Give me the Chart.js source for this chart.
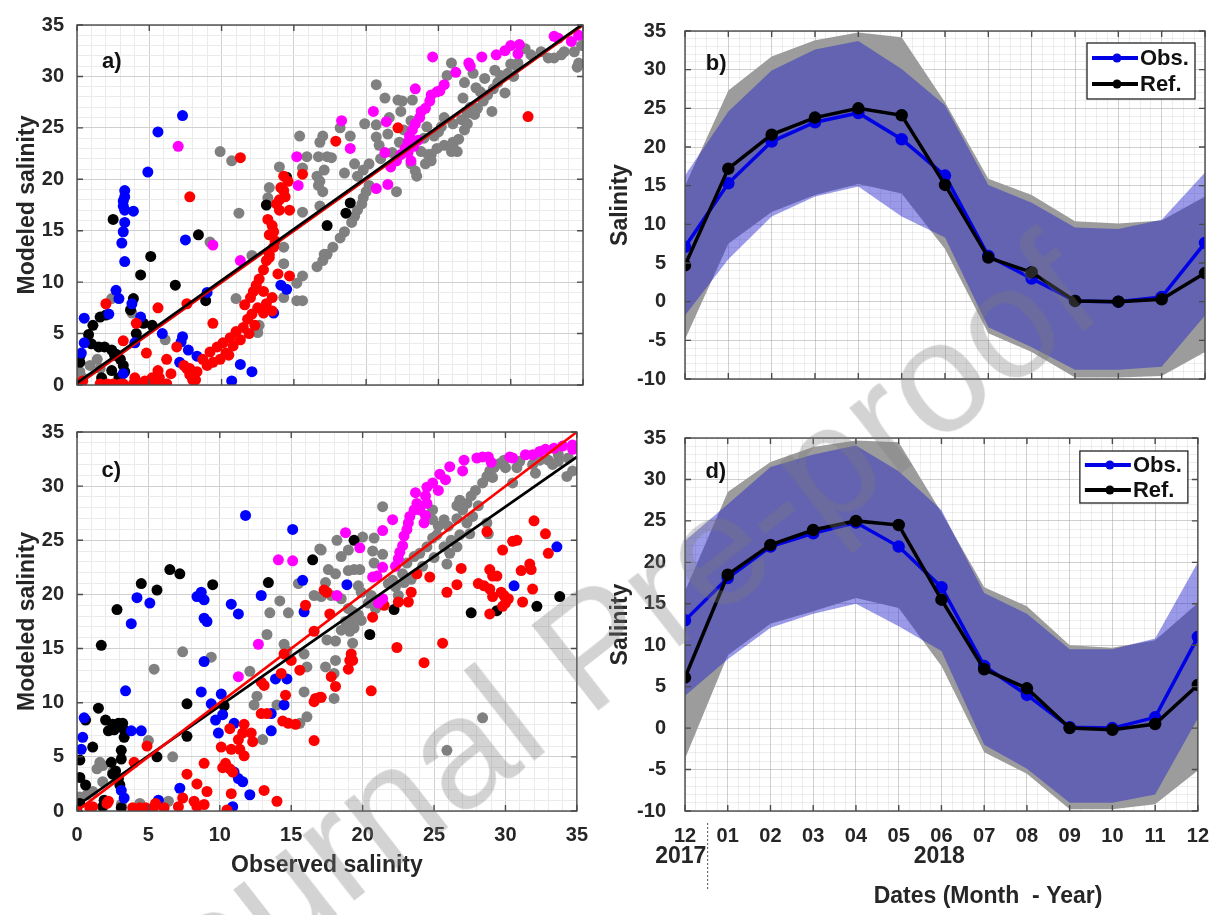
<!DOCTYPE html>
<html lang="en">
<head>
<meta charset="UTF-8">
<title>Observed vs modeled salinity</title>
<script src="https://cdn.jsdelivr.net/npm/chart.js@4"></script>
<style>
  body { margin: 0; background: #fff; font-family: "Liberation Sans", Arial, sans-serif; }
  #wrap { position: relative; width: 1222px; height: 915px; overflow: hidden; background: #fff; }
  .panel { position: absolute; }
  #pa { left: 0; top: 0; }
  #pb { left: 600px; top: 0; }
  #pc { left: 0; top: 407px; }
  #pd { left: 600px; top: 407px; }
  #watermark {
    position: absolute; left: 592px; top: 645px; z-index: 10; pointer-events: none;
    transform: translate(-50%, -50%) rotate(-38deg);
    white-space: nowrap; font-size: 158px; line-height: 1;
    font-family: "Liberation Sans", Arial, sans-serif;
    color: rgba(120, 120, 120, 0.33);
  }
</style>
</head>
<body>
<div id="wrap">
  <div class="panel" id="pa"><canvas id="chartA" width="600" height="410"></canvas></div>
  <div class="panel" id="pb"><canvas id="chartB" width="622" height="410"></canvas></div>
  <div class="panel" id="pc"><canvas id="chartC" width="600" height="472"></canvas></div>
  <div class="panel" id="pd"><canvas id="chartD" width="622" height="508"></canvas></div>
  <div id="watermark">Journal Pre-proof</div>
</div>

<script>
// ---- data ----
const monthLabels = ['12', '01', '02', '03', '04', '05', '06', '07', '08', '09', '10', '11', '12'];

// panel b
const obsB   = [7.1, 15.3, 20.7, 23.2, 24.4, 21.0, 16.3, 5.9, 3.0, 0.1, 0.0, 0.6, 7.6];
const refB   = [4.7, 17.2, 21.6, 23.8, 25.0, 24.1, 15.1, 5.7, 3.8, 0.1, 0.0, 0.3, 3.7];
const obsUpB = [16.3, 24.6, 29.9, 32.6, 33.7, 30.1, 25.4, 15.1, 12.8, 9.6, 9.4, 10.6, 16.7];
const obsLoB = [-1.8, 5.5, 11.0, 13.6, 14.9, 11.0, 8.3, -3.3, -5.9, -8.8, -8.8, -8.4, -1.8];
const refUpB = [15.0, 27.3, 31.7, 33.8, 34.8, 34.2, 25.8, 15.9, 13.8, 10.4, 10.1, 10.5, 13.6];
const refLoB = [-4.9, 7.5, 11.6, 13.8, 15.2, 14.0, 6.8, -4.1, -6.5, -9.8, -9.8, -9.6, -6.5];

// panel d
const obsD   = [13.0, 18.1, 21.9, 23.5, 24.8, 21.9, 17.0, 7.5, 4.0, 0.1, 0.0, 1.3, 11.0];
const refD   = [6.1, 18.5, 22.1, 23.9, 25.0, 24.5, 15.5, 7.1, 4.8, 0.0, -0.2, 0.5, 5.2];
const obsUpD = [22.6, 27.0, 31.5, 33.0, 34.1, 31.0, 26.3, 16.3, 13.8, 9.5, 9.5, 10.8, 20.0];
const obsLoD = [3.9, 8.3, 12.1, 13.8, 15.0, 12.3, 9.3, -2.0, -4.9, -9.0, -9.0, -8.0, 1.2];
const refUpD = [16.5, 28.5, 32.1, 33.9, 34.7, 34.5, 26.0, 17.0, 14.7, 10.0, 9.7, 10.6, 15.1];
const refLoD = [-3.7, 8.8, 12.6, 14.1, 15.7, 14.5, 7.5, -2.9, -5.5, -9.8, -9.8, -9.2, -5.1];

// panel a scatter  [observed, modeled]
const aGray = [[15.4,24.2],[17.0,24.2],[16.8,23.6],[9.9,22.7],[10.7,21.8],[15.9,22.2],[16.7,22.2],[17.3,22.2],[14.0,21.2],[15.6,21.1],[16.6,20.3],[16.8,19.8],[16.7,19.4],[17.0,18.8],[13.3,19.2],[13.2,18.2],[11.2,16.7],[15.6,16.8],[16.8,17.4],[9.2,13.9],[12.1,12.6],[14.3,13.4],[14.3,11.8],[16.6,11.5],[17.0,12.1],[17.3,12.7],[15.2,9.9],[15.6,10.6],[14.3,8.5],[15.2,8.2],[15.6,8.2],[11.0,8.4],[2.4,8.4],[3.8,7.0],[6.1,4.4],[1.4,2.5],[0.9,1.9],[0.2,1.3],[0.4,0.7],[1.6,1.6],[0.0,0.7],[6.2,0.1],[5.7,0.2],[12.6,5.8],[12.5,5.1],
  [17.1,12.7],[17.7,13.4],[18.2,14.3],[18.5,14.9],[19.0,15.8],[19.2,16.4],[19.4,17.0],[19.7,17.6],[19.8,18.2],[20.0,18.8],[20.2,19.4],[22.1,18.8],[23.4,20.8],[24.1,21.5],[24.3,22.4],[24.5,21.8],[23.8,22.7],[25.4,23.3],[25.9,22.7],[26.0,23.6],[26.4,23.9],[26.8,24.8],[27.0,25.4],[27.5,26.3],[27.7,26.9],[28.1,27.6],[28.4,28.2],[28.7,26.6],[28.8,28.8],[29.1,29.4],[29.3,30.1],[28.9,30.6],[27.4,30.3],[27.6,28.9],[27.9,28.5],[26.8,29.4],[25.9,31.3],[25.6,30.1],[26.7,27.9],[25.2,25.1],[25.4,26.0],[24.7,24.2],[21.3,27.9],[20.7,29.2],[22.2,27.7],[22.5,27.6],[23.2,27.7],[22.4,26.6],[23.1,25.7],[24.2,25.1],[21.6,26.0],[20.7,25.3],[19.9,25.4],[21.5,24.4],[20.7,24.1],[20.9,23.3],[18.9,24.2],[18.2,25.0],[17.6,22.1],[17.1,20.9],[18.5,20.6],[19.2,21.5],[19.4,20.3],[19.8,20.9],[20.2,21.5],[23.1,21.5],[23.5,20.3],[24.5,22.4],[30.0,31.2],[30.4,31.0],[30.5,31.3],[31.4,32.1],[32.1,32.4],[32.6,31.8],[33.0,31.8],[33.5,32.1],[33.7,32.4],[34.4,32.4],[34.9,33.0],[34.6,30.9],[34.7,31.3],[29.8,30.3],[31.0,32.7],[26.0,25.4],[26.3,22.7],[26.0,23.3],[24.9,23.0],[22.3,23.6],[22.6,24.8],[21.0,22.0],[21.8,22.6],[22.8,23.2],[24.0,24.0],[25.0,24.6],[26.6,25.8],[27.2,27.0],[28.2,29.8],[29.6,28.4],[30.2,30.0],[27.0,26.4]];
const aMagenta = [[24.6,31.9],[18.3,25.7],[18.9,23.0],[20.5,26.6],[21.4,25.6],[23.4,28.8],[20.7,19.1],[21.5,19.5],[21.3,22.6],[21.7,21.2],[22.1,21.8],[22.4,22.4],[22.7,23.0],[22.9,23.6],[23.0,24.2],[23.2,24.8],[23.4,25.4],[23.7,26.0],[23.8,26.6],[24.1,26.9],[24.4,27.6],[24.5,28.2],[24.9,28.5],[25.1,28.6],[25.4,29.2],[26.2,30.4],[27.1,31.3],[27.2,31.0],[28.0,31.9],[29.0,32.1],[29.6,32.5],[30.0,33.0],[30.6,33.1],[30.5,32.2],[33.0,33.9],[33.3,33.7],[34.2,33.4],[34.7,34.0],[23.1,21.8],[22.9,22.6],[23.3,23.2],[23.6,23.8],[7.0,23.2],[15.2,22.2],[15.3,19.4],[9.4,13.6],[11.3,12.1]];
const aRed = [[11.3,22.1],[7.8,18.3],[2.0,7.9],[5.6,7.5],[7.6,7.9],[9.4,6.0],[4.1,6.0],[3.2,4.3],[4.8,3.1],[6.2,2.5],[5.6,1.4],[6.9,3.7],[4.7,0.4],[5.2,0.7],[5.7,0.7],[4.0,0.7],[2.5,0.1],[3.0,0.1],[3.2,0.1],[2.1,0.1],[1.6,0.1],[3.9,0.1],[4.4,0.1],[5.1,0.1],[5.7,0.1],[6.2,0.1],[0.0,0.1],[0.4,0.4],[7.4,1.9],[7.8,1.6],[8.3,1.3],[8.0,0.5],[6.5,1.1],[8.7,2.5],[9.2,3.2],[9.7,3.7],[10.1,4.1],[10.6,4.6],[11.0,5.2],[11.5,5.6],[11.8,6.4],[12.1,6.9],[11.6,7.8],[12.0,8.5],[12.2,9.1],[12.4,9.7],[12.6,10.3],[12.9,11.2],[13.1,12.1],[13.3,12.7],[13.6,13.4],[13.7,14.0],[13.3,14.6],[13.2,16.1],[13.5,15.5],[13.6,14.9],[13.8,17.6],[14.0,18.0],[14.4,18.3],[14.3,18.9],[14.1,19.2],[14.6,19.8],[14.7,17.0],[14.0,17.0],[13.3,12.4],[13.9,10.8],[14.7,10.6],[12.9,9.1],[13.5,8.5],[13.1,7.9],[12.9,7.0],[13.5,7.2],[10.3,3.1],[9.9,2.5],[9.4,2.2],[9.0,1.9],[7.6,1.6],[7.8,1.0],[8.2,0.5],[15.6,20.5],[14.3,20.3],[17.9,23.7],[22.2,25.0],[31.2,26.1],[10.8,3.8],[11.3,4.4],[11.9,5.0],[12.3,5.8],[12.5,7.5],[10.5,2.9]];
const aBlue = [[7.3,26.2],[5.6,24.6],[4.9,20.7],[3.3,18.9],[3.3,18.3],[3.2,17.9],[3.2,17.4],[3.3,17.0],[3.9,16.9],[3.3,15.8],[3.2,14.9],[3.1,13.8],[3.3,12.0],[7.5,14.1],[2.7,9.2],[2.9,8.4],[3.8,7.9],[0.5,6.5],[2.2,6.9],[4.4,6.6],[0.5,4.1],[0.3,3.1],[5.9,5.0],[7.3,4.7],[7.2,4.2],[7.7,3.4],[7.1,2.2],[8.3,2.8],[9.0,9.0],[10.7,0.4],[11.3,2.0],[12.1,1.3],[14.1,9.7],[14.5,9.3],[13.6,7.0],[4.0,4.1],[3.2,1.1]];
const aBlack = [[2.5,16.1],[8.4,14.6],[5.1,12.5],[4.4,10.7],[6.8,9.7],[13.1,17.5],[17.3,15.5],[8.9,8.2],[3.9,8.4],[3.7,7.3],[1.6,6.6],[1.1,5.8],[0.8,4.9],[1.0,4.0],[1.5,3.7],[1.9,3.7],[2.4,3.4],[2.6,2.9],[3.0,2.5],[3.2,1.9],[3.3,1.3],[2.9,0.7],[0.2,2.2],[0.2,2.8],[4.6,6.0],[5.2,5.8],[4.1,5.0],[1.7,0.7],[1.8,0.1],[2.4,1.4],[14.5,20.2],[18.9,17.7],[18.6,16.7],[2.0,6.8],[2.7,3.0]];

// panel c scatter
const cGray = [[7.4,14.7],[5.4,13.1],[9.4,14.2],[12.1,12.9],[12.6,10.6],[12.4,9.8],[13.3,16.3],[13.5,18.3],[14.8,18.3],[14.2,19.4],[16.6,19.9],[17.0,24.2],[15.5,21.0],[14.5,15.4],[14.7,14.8],[15.9,14.5],[16.1,13.3],[15.9,11.0],[14.0,9.8],[16.1,8.7],[15.6,8.1],[13.0,6.6],[6.7,5.0],[5.0,6.5],[1.6,4.5],[1.4,3.9],[1.8,4.2],[1.8,2.7],[2.5,3.6],[0.7,1.5],[0.2,1.3],[1.1,1.8],[3.1,0.6],[4.4,0.7],[6.4,0.9],
  [28.4,8.6],[25.9,5.6],[21.4,28.1],[18.2,25.0],[17.1,24.1],[19.0,24.1],[19.4,22.3],[19.8,22.3],[19.0,22.2],[18.5,23.5],[20.0,25.3],[20.8,25.2],[20.7,24.0],[21.4,23.7],[20.8,22.9],[17.6,22.3],[17.4,21.1],[18.1,21.9],[19.7,20.8],[19.9,20.2],[18.5,19.6],[17.8,19.9],[17.1,19.8],[19.0,18.7],[19.3,18.4],[19.7,18.1],[19.2,17.5],[19.4,16.9],[19.1,16.6],[18.9,17.2],[18.5,16.7],[18.1,15.7],[18.8,17.5],[19.9,17.6],[19.3,15.5],[20.6,19.9],[20.9,18.7],[20.4,19.2],[22.5,19.9],[22.3,20.7],[22.9,21.1],[23.4,21.4],[22.8,21.9],[22.1,21.3],[23.1,22.9],[23.6,23.5],[24.0,23.8],[24.5,24.4],[24.9,25.2],[25.2,25.5],[25.3,26.3],[25.7,24.4],[26.1,23.8],[25.9,22.8],[26.6,24.4],[24.9,26.9],[24.9,27.8],[25.7,26.9],[26.0,26.3],[26.6,27.0],[27.0,27.8],[27.3,28.4],[27.6,29.1],[27.9,29.6],[28.4,30.3],[28.7,30.9],[28.9,31.4],[29.2,31.7],[29.6,32.1],[29.9,32.4],[26.8,28.7],[26.6,28.2],[28.1,28.2],[28.7,26.6],[28.8,25.6],[27.7,27.2],[27.3,26.6],[27.5,25.6],[26.8,25.5],[30.8,31.7],[31.0,32.3],[31.9,32.0],[32.4,32.4],[33.0,32.4],[33.3,32.0],[33.7,32.3],[34.4,32.6],[34.7,31.4],[34.3,30.9],[33.7,32.9],[32.1,31.2],[30.5,30.3],[30.0,31.7],[29.1,30.8],[17.5,15.8],[18.1,13.9],[17.4,13.3],[18.0,12.7],[18.0,10.4],[21.8,21.0],[24.2,22.6],[25.0,23.4],[26.2,25.0]];
const cMagenta = [[27.1,32.4],[27.0,31.4],[28.0,32.6],[28.4,32.7],[28.8,32.7],[30.3,32.7],[30.5,32.6],[31.4,32.9],[31.9,32.9],[32.4,33.2],[32.8,33.4],[34.7,33.8],[34.7,33.4],[25.4,31.1],[24.9,30.3],[25.3,29.6],[24.5,29.9],[24.4,29.1],[24.5,28.4],[24.4,27.3],[24.3,26.6],[24.0,27.8],[23.7,29.4],[23.8,28.4],[23.6,27.8],[23.3,27.2],[23.2,26.6],[23.1,26.0],[22.9,25.4],[22.8,24.5],[22.6,23.9],[22.5,23.3],[22.3,22.6],[22.1,26.9],[21.4,25.9],[18.8,25.7],[19.8,24.3],[21.4,22.5],[20.7,21.6],[21.0,21.7],[18.2,19.9],[21.4,19.6],[21.1,19.2],[14.1,23.2],[15.1,23.1],[12.7,15.4],[11.3,12.4],[26.1,31.8],[25.8,30.6],[29.0,32.2],[33.4,33.5],[34.0,33.7]];
const cRed = [[17.3,20.4],[16.0,19.0],[16.6,16.6],[14.5,14.5],[15.0,13.9],[15.6,13.0],[12.9,11.9],[13.1,11.6],[14.3,12.7],[14.6,10.7],[16.7,10.4],[16.6,10.1],[17.0,10.5],[12.9,9.0],[13.3,9.0],[14.4,8.3],[14.8,8.1],[15.3,8.0],[16.6,6.5],[10.7,7.6],[11.7,8.0],[11.6,7.2],[12.2,7.2],[12.3,6.4],[11.3,6.6],[11.4,5.7],[11.7,5.1],[10.1,5.9],[10.8,5.7],[10.4,4.4],[10.7,3.9],[10.9,3.6],[10.2,4.0],[8.9,4.4],[7.7,3.4],[8.4,2.5],[9.1,1.8],[10.8,1.6],[13.1,1.9],[14.0,0.9],[4.9,6.0],[4.0,4.5],[0.0,0.0],[0.9,0.3],[1.1,0.4],[2.1,0.7],[2.2,0.9],[3.9,0.3],[4.4,0.3],[4.8,0.3],[5.4,0.4],[6.1,0.3],[5.5,0.7],[7.4,1.2],[7.1,0.4],[8.4,0.4],[8.9,0.6],[8.2,0.9],[10.5,0.1],
  [32.0,26.8],[32.8,25.6],[33.0,23.8],[30.5,24.9],[30.8,25.0],[29.8,24.1],[28.7,25.8],[26.9,22.4],[24.7,21.6],[23.8,21.9],[26.6,20.9],[25.9,20.2],[28.1,21.0],[28.5,20.8],[28.9,22.3],[29.1,21.7],[29.4,21.7],[28.9,20.5],[29.1,19.8],[29.7,20.2],[29.9,19.9],[30.0,19.2],[30.2,19.6],[28.9,18.2],[29.8,18.9],[31.1,22.2],[31.7,22.8],[31.8,22.3],[31.2,19.3],[31.9,20.5],[23.2,19.3],[23.4,20.2],[22.5,19.3],[21.5,19.0],[20.7,17.9],[22.4,15.1],[25.6,15.5],[24.3,13.7],[19.2,14.5],[19.1,13.9],[19.3,13.9],[19.0,13.1],[17.8,12.4],[18.1,11.5],[20.6,11.1],[17.5,20.2],[17.7,18.2],[17.1,10.5]];
const cBlue = [[11.8,27.3],[15.1,26.0],[4.2,19.7],[5.1,19.2],[3.8,17.3],[8.4,19.8],[8.7,20.2],[8.9,19.5],[8.9,17.8],[9.1,17.5],[10.8,19.1],[11.3,18.2],[12.9,19.9],[15.8,21.3],[15.9,18.4],[8.9,13.8],[3.4,11.1],[8.7,11.0],[10.1,10.8],[9.4,9.9],[9.7,8.4],[9.9,7.2],[10.2,8.9],[11.0,8.1],[13.6,7.4],[13.9,12.2],[14.7,12.2],[14.5,9.8],[13.6,9.0],[0.5,8.6],[0.4,6.8],[0.3,5.7],[3.8,7.4],[4.5,7.4],[7.2,2.1],[11.0,3.6],[11.3,3.0],[11.6,2.7],[12.1,1.5],[10.9,0.4],[5.7,1.0],[3.3,1.2],[3.1,1.9],[18.9,20.9],[33.6,24.4],[30.6,20.8]];
const cBlack = [[6.5,22.3],[7.2,21.9],[4.5,21.0],[5.6,20.4],[9.5,20.9],[2.8,18.6],[13.4,21.1],[16.5,23.2],[1.7,15.3],[7.7,9.9],[10.3,9.7],[1.5,9.5],[0.6,8.4],[2.0,8.4],[2.2,7.4],[2.5,8.0],[2.9,8.1],[3.2,8.1],[3.3,7.5],[3.3,6.8],[2.6,7.5],[1.1,5.9],[3.1,5.6],[3.1,4.8],[2.4,4.5],[2.7,3.7],[2.5,3.4],[2.9,3.0],[3.0,2.4],[7.7,6.9],[5.6,5.0],[0.2,4.7],[0.2,3.1],[0.6,2.4],[0.2,0.7],[1.8,0.4],[3.1,0.3],[1.9,1.0],[19.4,25.0],[22.2,18.6],[20.5,16.3],[27.6,18.3],[29.4,18.5],[32.2,18.9],[33.8,19.8]];

// 1:1 lines and fits (end points)
const oneToOne = [[0, 0], [35, 35]];
const fitA = [[0, 0.2], [35, 35.1]];
const fitC = [[0, 0.5], [35, 32.7]];

// ---- styling helpers ----
const FONT = "'Liberation Sans', Arial, sans-serif";
const tickFont = { family: FONT, size: 20, weight: 'bold' };
const titleFont = { family: FONT, size: 23, weight: 'bold' };
const TXT = '#262626';

const onStep = (v, s) => Math.abs(v / s - Math.round(v / s)) < 1e-6;
const fiveLabel = v => onStep(v, 5) ? v : '';

function pts(arr) { return arr.map(p => ({ x: p[0], y: p[1] })); }
function dots(label, arr, color) {
  return { label, data: pts(arr), backgroundColor: color, borderWidth: 0, pointRadius: 5.5, pointHoverRadius: 5.5 };
}
function fitLine(label, arr, color, width) {
  return { label, data: pts(arr), showLine: true, borderColor: color, borderWidth: width, pointRadius: 0, fill: false };
}
function series(arr) { return arr.map((v, i) => ({ x: i, y: v })); }

// frame, inner ticks, panel letter, legend and extra labels
const framePlugin = {
  id: 'frame',
  afterDraw(chart, args, o) {
    const { ctx, chartArea: a, scales: { x, y } } = chart;
    ctx.save();
    ctx.strokeStyle = '#4a4a4a';
    ctx.lineWidth = 1.4;
    ctx.beginPath();
    x.ticks.forEach(t => {
      if (!onStep(t.value, o.xMajor)) return;
      const p = x.getPixelForValue(t.value);
      ctx.moveTo(p, a.bottom); ctx.lineTo(p, a.bottom - 6);
      ctx.moveTo(p, a.top); ctx.lineTo(p, a.top + 6);
    });
    y.ticks.forEach(t => {
      if (!onStep(t.value, 5)) return;
      const p = y.getPixelForValue(t.value);
      ctx.moveTo(a.left, p); ctx.lineTo(a.left + 6, p);
      ctx.moveTo(a.right, p); ctx.lineTo(a.right - 6, p);
    });
    ctx.stroke();
    ctx.strokeRect(a.left, a.top, a.width, a.height);

    ctx.fillStyle = '#111';
    ctx.font = `bold 22px ${FONT}`;
    ctx.textAlign = 'center';
    ctx.textBaseline = 'middle';
    ctx.fillText(o.letter, x.getPixelForValue(o.letterAt[0]), y.getPixelForValue(o.letterAt[1]));

    if (o.legend) {
      const bx = a.right - 118, by = a.top + o.legend.top, bw = 108, bh = o.legend.h;
      ctx.fillStyle = '#fff';
      ctx.fillRect(bx, by, bw, bh);
      ctx.strokeStyle = '#222';
      ctx.lineWidth = 1.3;
      ctx.strokeRect(bx, by, bw, bh);
      const entries = [chart.data.datasets[1], chart.data.datasets[0]];
      entries.forEach((ds, i) => {
        const yy = by + o.legend.rows[i];
        ctx.strokeStyle = ds.borderColor;
        ctx.lineWidth = 4;
        ctx.beginPath(); ctx.moveTo(bx + 5, yy); ctx.lineTo(bx + 51, yy); ctx.stroke();
        ctx.fillStyle = ds.borderColor;
        ctx.beginPath(); ctx.arc(bx + 30, yy, 4.5, 0, Math.PI * 2); ctx.fill();
        ctx.fillStyle = '#111';
        ctx.textAlign = 'left';
        ctx.fillText(ds.label, bx + 53, yy + 1);
      });
    }

    if (o.years) {
      ctx.fillStyle = TXT;
      ctx.textAlign = 'center';
      ctx.font = `bold 23px ${FONT}`;
      ctx.fillText(o.years.labels[0], x.getPixelForValue(o.years.at[0]), a.bottom + 46);
      ctx.fillText(o.years.labels[1], x.getPixelForValue(o.years.at[1]), a.bottom + 46);
      ctx.fillText(o.years.title, x.getPixelForValue(o.years.titleAt), a.bottom + 86);
      const sx = x.getPixelForValue(o.years.split);
      ctx.strokeStyle = '#555';
      ctx.lineWidth = 1;
      ctx.setLineDash([2, 2]);
      ctx.beginPath(); ctx.moveTo(sx, a.bottom + 12); ctx.lineTo(sx, a.bottom + 79); ctx.stroke();
    }
    ctx.restore();
  }
};

function scatterScales(xHeight, showX) {
  const grid = { color: c => onStep(c.tick.value, 5) ? '#d0d0d0' : '#ebebeb', drawTicks: false, lineWidth: 1 };
  return {
    x: {
      type: 'linear', min: 0, max: 35,
      afterFit: s => { s.height = xHeight; },
      border: { display: false },
      grid,
      ticks: { display: showX, stepSize: 1, autoSkip: false, maxRotation: 0, padding: 12, font: tickFont, color: TXT, callback: fiveLabel },
      title: { display: showX, text: 'Observed salinity', font: titleFont, color: TXT, padding: { top: 0, bottom: 0 } }
    },
    y: {
      type: 'linear', min: 0, max: 35,
      afterFit: s => { s.width = 77; },
      border: { display: false },
      grid,
      ticks: { stepSize: 1, autoSkip: false, padding: 13, font: tickFont, color: TXT, callback: fiveLabel },
      title: { display: true, text: 'Modeled salinity', font: titleFont, color: TXT, padding: { top: 14, bottom: 0 } }
    }
  };
}

function bandScales(xHeight, showX) {
  return {
    x: {
      type: 'linear', min: 0, max: 12, z: 1,
      afterFit: s => { s.height = xHeight; },
      border: { display: false },
      grid: { color: c => onStep(c.tick.value, 1) ? 'rgba(150,150,150,0.45)' : 'rgba(160,160,160,0.18)', drawTicks: false },
      ticks: { display: showX, stepSize: 0.25, autoSkip: false, maxRotation: 0, padding: 13, font: tickFont, color: TXT,
               callback: v => onStep(v, 1) ? monthLabels[Math.round(v)] : '' }
    },
    y: {
      type: 'linear', min: -10, max: 35, z: 1,
      afterFit: s => { s.width = 85; },
      border: { display: false },
      grid: { color: c => onStep(c.tick.value, 5) ? 'rgba(150,150,150,0.45)' : 'rgba(160,160,160,0.18)', drawTicks: false },
      ticks: { stepSize: 1, autoSkip: false, padding: 19, font: tickFont, color: TXT, callback: fiveLabel },
      title: { display: true, text: 'Salinity', font: titleFont, color: TXT, padding: { top: 7, bottom: 0 } }
    }
  };
}

function bandDatasets(obs, ref, obsUp, obsLo, refUp, refLo) {
  return [
    { label: 'Ref.', data: series(ref), borderColor: '#000000', backgroundColor: '#000000', borderWidth: 3.5, pointRadius: 4.5, fill: false, order: 0 },
    { label: 'Obs.', data: series(obs), borderColor: '#0000e6', backgroundColor: '#0000e6', borderWidth: 3.5, pointRadius: 4.5, fill: false, order: 1 },
    { label: 'obs upper', data: series(obsUp), borderWidth: 0, pointRadius: 0, fill: '+1', backgroundColor: 'rgba(30,30,205,0.45)', order: 2 },
    { label: 'obs lower', data: series(obsLo), borderWidth: 0, pointRadius: 0, fill: false, order: 2 },
    { label: 'ref upper', data: series(refUp), borderWidth: 0, pointRadius: 0, fill: '+1', backgroundColor: '#9c9c9c', order: 3 },
    { label: 'ref lower', data: series(refLo), borderWidth: 0, pointRadius: 0, fill: false, order: 3 }
  ];
}

const common = {
  responsive: false,
  animation: false,
  events: [],
  plugins: { legend: { display: false }, tooltip: { enabled: false } }
};

// ---- panel a ----
new Chart(document.getElementById('chartA'), {
  type: 'scatter',
  data: {
    datasets: [
      fitLine('fit', fitA, '#000000', 2.6),
      fitLine('1:1', oneToOne, '#e00000', 3),
      dots('magenta', aMagenta, '#ff00ff'),
      dots('red', aRed, '#ff0000'),
      dots('blue', aBlue, '#0000ff'),
      dots('black', aBlack, '#000000'),
      dots('gray', aGray, '#808080')
    ]
  },
  options: {
    ...common,
    layout: { padding: { top: 18, right: 17, left: 0, bottom: 0 } },
    scales: scatterScales(6, false),
    plugins: { ...common.plugins, frame: { xMajor: 5, letter: 'a)', letterAt: [2.4, 31.4] } }
  },
  plugins: [framePlugin]
});

// ---- panel c ----
new Chart(document.getElementById('chartC'), {
  type: 'scatter',
  data: {
    datasets: [
      fitLine('1:1', oneToOne, '#ff0000', 2.6),
      fitLine('fit', fitC, '#000000', 2.6),
      dots('magenta', cMagenta, '#ff00ff'),
      dots('red', cRed, '#ff0000'),
      dots('blue', cBlue, '#0000ff'),
      dots('black', cBlack, '#000000'),
      dots('gray', cGray, '#808080')
    ]
  },
  options: {
    ...common,
    layout: { padding: { top: 18, right: 17, left: 0, bottom: 0 } },
    scales: scatterScales(68, true),
    plugins: { ...common.plugins, frame: { xMajor: 5, letter: 'c)', letterAt: [2.4, 31.4] } }
  },
  plugins: [framePlugin]
});

// ---- panel b ----
new Chart(document.getElementById('chartB'), {
  type: 'line',
  data: { datasets: bandDatasets(obsB, refB, obsUpB, obsLoB, refUpB, refLoB) },
  options: {
    ...common,
    layout: { padding: { top: 22, right: 17, left: 0, bottom: 0 } },
    scales: bandScales(7, false),
    plugins: { ...common.plugins, frame: { xMajor: 1, letter: 'b)', letterAt: [0.72, 30.8], legend: { top: 12, h: 56, rows: [15, 41] } } }
  },
  plugins: [framePlugin]
});

// ---- panel d ----
new Chart(document.getElementById('chartD'), {
  type: 'line',
  data: { datasets: bandDatasets(obsD, refD, obsUpD, obsLoD, refUpD, refLoD) },
  options: {
    ...common,
    layout: { padding: { top: 20, right: 17, left: 0, bottom: 0 } },
    scales: bandScales(104, true),
    plugins: { ...common.plugins, frame: {
      xMajor: 1, letter: 'd)', letterAt: [0.72, 30.9],
      legend: { top: 13, h: 52, rows: [14, 39] },
      years: { labels: ['2017', '2018'], at: [-0.1, 5.95], split: 0.53, title: 'Dates (Month  - Year)', titleAt: 7.09 }
    } }
  },
  plugins: [framePlugin]
});
</script>
</body>
</html>
